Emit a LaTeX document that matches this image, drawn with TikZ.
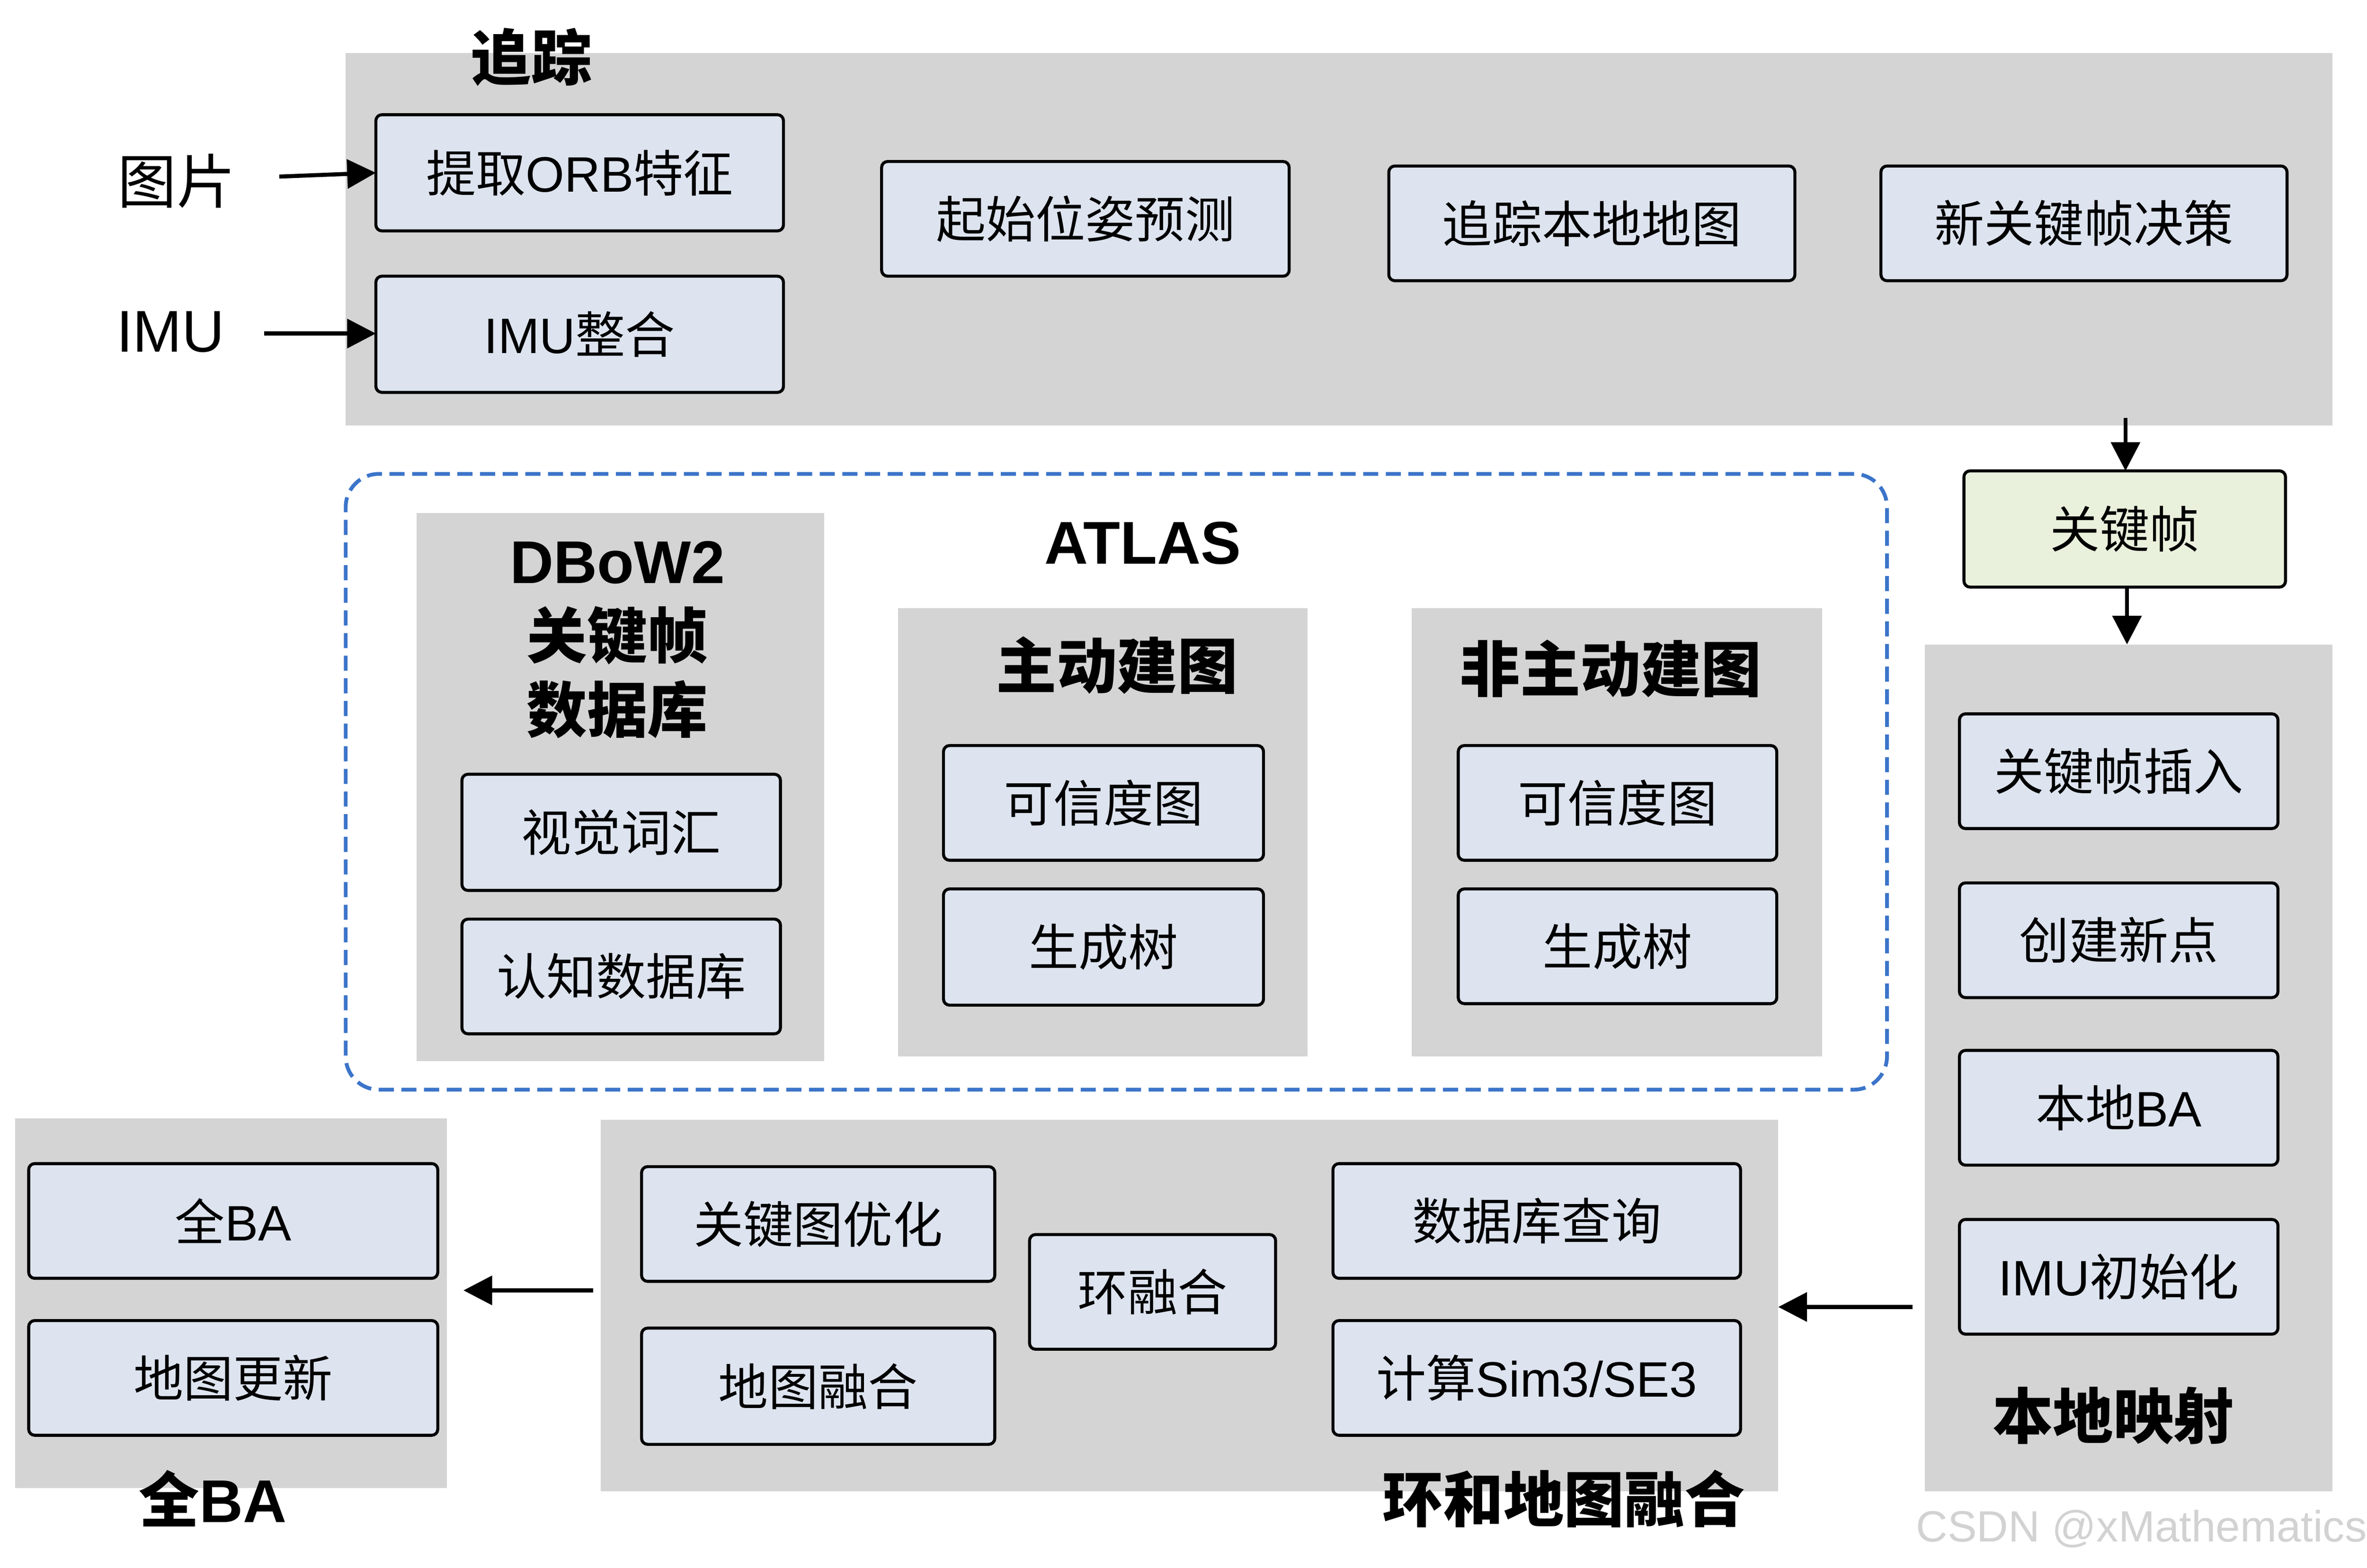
\documentclass[tikz,border=0pt]{standalone}
\usepackage{fontspec}
\setmainfont{Noto Sans CJK SC}
\newfontfamily\lat{Liberation Sans}
\newfontfamily\wmfont{Liberation Sans}
\usetikzlibrary{arrows.meta,calc}
\definecolor{panelgray}{HTML}{D4D4D4}
\definecolor{boxfill}{HTML}{DDE4EF}
\definecolor{kffill}{HTML}{E9F0DC}
\definecolor{atlasblue}{HTML}{3B74C9}
\definecolor{wmgray}{HTML}{D2D2D2}
\newcommand\bxfont{\fontsize{33}{39}\selectfont}
\newcommand\tlfont{\fontsize{40}{49}\selectfont\bfseries}
\newcommand\lbfont{\fontsize{39}{46}\selectfont}
\tikzset{
  panel/.style={fill=panelgray, draw=none, inner sep=0pt, outer sep=0pt},
  box/.style={draw=black, fill=boxfill, line width=2pt, rounded corners=4pt,
    inner sep=0pt, outer sep=0pt, font=\bxfont},
  ttl/.style={font=\tlfont, align=center, inner sep=0pt},
  lbl/.style={font=\lbfont, inner sep=0pt},
  arr/.style={-{Triangle[length=19pt,width=19pt]}, line width=2.7pt},
}
\begin{document}
\begin{tikzpicture}[x=1pt,y=-1pt]
\useasboundingbox[fill=white] (0,0) rectangle (1568,1038.7);

% panels
\node[panel, minimum width=1316pt, minimum height=247pt] (trackP) at (887,158.5) {};
\node[panel, minimum width=270pt, minimum height=561pt] (localP) at (1410,707.5) {};
\node[panel, minimum width=270pt, minimum height=363pt] (dbowP) at (411,521.5) {};
\node[panel, minimum width=271pt, minimum height=297pt] (activeP) at (730.5,551.5) {};
\node[panel, minimum width=272pt, minimum height=297pt] (inactiveP) at (1071,551.5) {};
\node[panel, minimum width=780pt, minimum height=246pt] (loopP) at (788,865) {};
\node[panel, minimum width=286pt, minimum height=245pt] (gbaP) at (153,863.5) {};

% ATLAS dashed frame
\node[draw=atlasblue, line width=2.5pt, dash pattern=on 10pt off 5pt,
  rounded corners=22pt, inner sep=0pt, outer sep=0pt,
  minimum width=1021pt, minimum height=408pt] (atlas) at (739.5,518) {};

% titles
\node[ttl] (tTrack) at (352,38) {追踪};
\node[ttl] (tAtlas) at (757,360) {{\lat ATLAS}};
\node[ttl, font=\fontsize{40}{49.5}\selectfont\bfseries] (tDbow) at (409,424) {{\lat DBoW2}\\关键帧\\数据库};
\node[ttl] (tActive) at (740,441) {主动建图};
\node[ttl] (tInactive) at (1067,443) {非主动建图};
\node[ttl] (tLocal) at (1400,938) {本地映射};
\node[ttl] (tLoop) at (1036,993) {环和地图融合};
\node[ttl] (tGba) at (141,993) {全{\lat BA}};

% input labels
\node[lbl] (img) at (117,120) {图片};
\node[lbl] (imu) at (113,220) {{\lat IMU}};

% tracking boxes
\node[box, minimum width=270pt, minimum height=77pt] (orb) at (384,114.5) {提取{\lat ORB}特征};
\node[box, minimum width=270pt, minimum height=77pt] (imuint) at (384,221.5) {{\lat IMU}整合};
\node[box, minimum width=270pt, minimum height=76pt] (pose) at (719,145) {起始位姿预测};
\node[box, minimum width=269pt, minimum height=76pt] (track) at (1054.5,148) {追踪本地地图};
\node[box, minimum width=269pt, minimum height=76pt] (newkf) at (1380.5,148) {新关键帧决策};

% keyframe
\node[box, fill=kffill, minimum width=213pt, minimum height=77pt] (kf) at (1407.5,350.5) {关键帧};

% local mapping
\node[box, minimum width=211pt, minimum height=76pt] (kfins) at (1403.5,511) {关键帧插入};
\node[box, minimum width=211pt, minimum height=76pt] (newpts) at (1403.5,623) {创建新点};
\node[box, minimum width=211pt, minimum height=76pt] (localba) at (1403.5,734) {本地{\lat BA}};
\node[box, minimum width=211pt, minimum height=76pt] (imuinit) at (1403.5,846) {{\lat IMU}初始化};

% DBoW2
\node[box, minimum width=211pt, minimum height=77pt] (vocab) at (411.5,551.5) {视觉词汇};
\node[box, minimum width=211pt, minimum height=76pt] (recdb) at (411.5,647) {认知数据库};

% active / inactive maps
\node[box, minimum width=212pt, minimum height=76pt] (conf1) at (731,532) {可信度图};
\node[box, minimum width=212pt, minimum height=77pt] (tree1) at (731,627.5) {生成树};
\node[box, minimum width=211pt, minimum height=76pt] (conf2) at (1071.5,532) {可信度图};
\node[box, minimum width=211pt, minimum height=76pt] (tree2) at (1071.5,627) {生成树};

% loop and map merging
\node[box, minimum width=234pt, minimum height=76pt] (kgopt) at (542,811) {关键图优化};
\node[box, minimum width=234pt, minimum height=77pt] (mapmerge) at (542,918.5) {地图融合};
\node[box, minimum width=163pt, minimum height=76pt] (loopfuse) at (763.5,856) {环融合};
\node[box, minimum width=270pt, minimum height=76pt] (dbq) at (1018,809) {数据库查询};
\node[box, minimum width=270pt, minimum height=76pt] (sim3) at (1018,913) {计算{\lat Sim3/SE3}};

% full BA
\node[box, minimum width=271pt, minimum height=76pt] (fullba) at (154.5,809) {全{\lat BA}};
\node[box, minimum width=271pt, minimum height=76pt] (mapupd) at (154.5,913) {地图更新};

% connectors
\coordinate (imgS) at (185,117);
\coordinate (imuS) at (175,221);
\draw[arr] (imgS) -- (orb.west);
\draw[arr] (imuS) -- (imuint.west |- imuS);
\coordinate (tkS) at (1408,277);
\draw[arr] (tkS) -- (tkS |- kf.north);
\coordinate (kfS) at (1409,389);
\draw[arr] (kfS) -- (kfS |- localP.north);
\coordinate (lmS) at (1267,866);
\draw[arr] (lmS) -- (lmS -| loopP.east);
\coordinate (lpS) at (393,855);
\coordinate (lpE) at (307,855);
\draw[arr] (lpS) -- (lpE);

% watermark
\node[font=\wmfont\fontsize{29}{34}\selectfont, text=wmgray, inner sep=0pt, anchor=east] (wm) at (1568,1013) {CSDN @xMathematics};
\end{tikzpicture}
\end{document}
